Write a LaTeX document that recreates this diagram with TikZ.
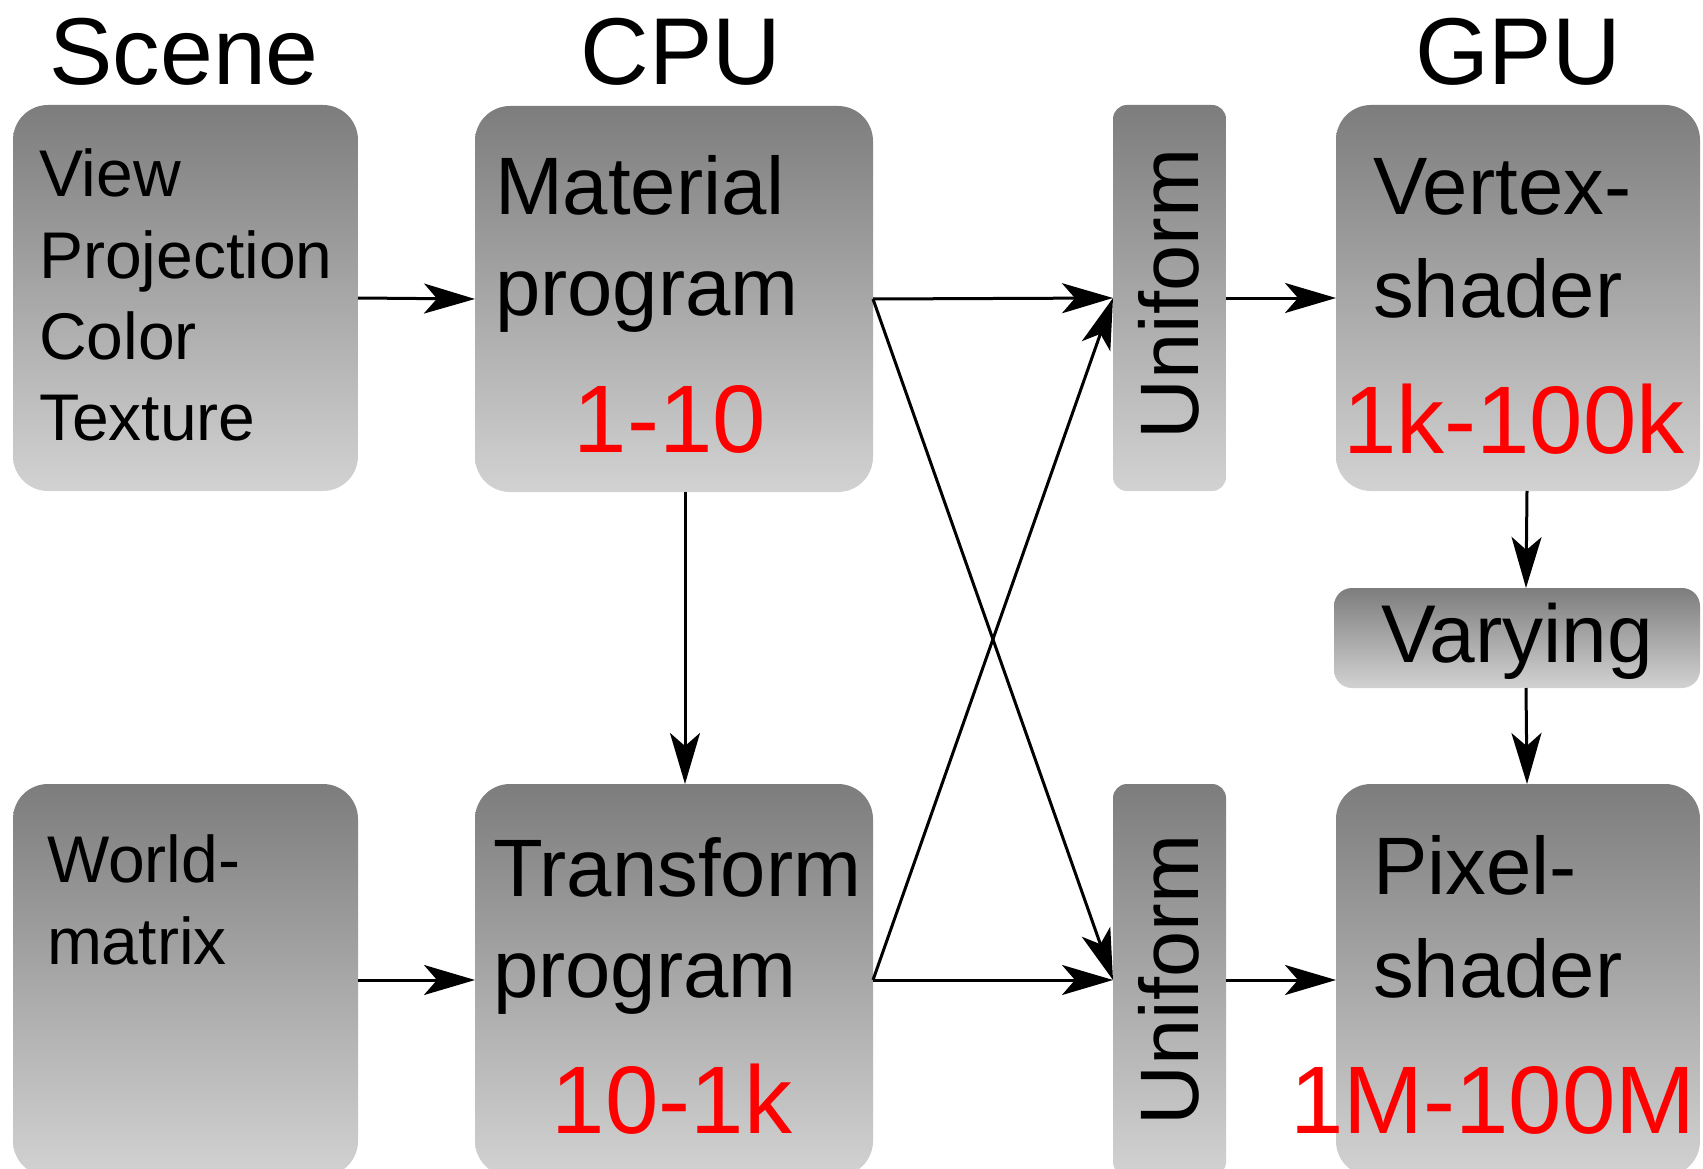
\documentclass[tikz,border=0pt]{standalone}
\usepackage{fontspec}
\setmainfont{Liberation Sans}
\usetikzlibrary{arrows.meta}
\definecolor{boxtop}{RGB}{125,125,125}
\definecolor{boxbot}{RGB}{210,210,210}
\definecolor{numred}{RGB}{255,0,0}
\newcommand\myfs[1]{\fontsize{#1}{#1}\selectfont}
\tikzset{
  box/.style={rectangle, rounded corners=35pt, top color=boxtop, bottom color=boxbot,
    draw=none, inner sep=0pt, outer sep=0pt},
  slimbox/.style={box, rounded corners=14pt},
  arr/.style={-{Stealth[length=51pt,width=30pt,inset=13pt]}, line width=3pt},
  lefttxt/.style={anchor=base west, inner sep=0pt, outer sep=0pt},
  ctxt/.style={anchor=base, inner sep=0pt, outer sep=0pt},
  head/.style={ctxt, font=\myfs{95}},
  small/.style={lefttxt, font=\myfs{66}},
  mid/.style={lefttxt, font=\myfs{81.5}},
  num/.style={ctxt, text=numred, font=\myfs{96}},
  vert/.style={anchor=base, rotate=90, inner sep=0pt, outer sep=0pt, font=\myfs{83}}
}
\begin{document}
\begin{tikzpicture}[x=1pt,y=-1pt]
\clip (0,0) rectangle (1703,1169);
\fill[white] (0,0) rectangle (1703,1169);
% boxes
\node[box, minimum width=345pt, minimum height=386pt] (scene) at (185.5,298) {};
\node[box, minimum width=398pt, minimum height=386pt] (material) at (674,299) {};
\node[slimbox, minimum width=113pt, minimum height=386pt] (unifT) at (1169.5,298) {};
\node[box, minimum width=364pt, minimum height=386pt] (vertex) at (1518,298) {};
\node[box, rounded corners=18pt, minimum width=366pt, minimum height=100pt] (varying) at (1517,638) {};
\node[box, minimum width=345pt, minimum height=392pt] (world) at (185.5,980) {};
\node[box, minimum width=398pt, minimum height=392pt] (transform) at (674,980) {};
\node[slimbox, minimum width=113pt, minimum height=392pt] (unifB) at (1169.5,980) {};
\node[box, minimum width=364pt, minimum height=392pt] (pixel) at (1518,980) {};
% connectors
\draw[arr] (scene.east) -- (material.west);
\draw[arr] (world.east) -- (transform.west);
\draw[arr] ([xshift=11pt]material.south) -- ([xshift=11pt]transform.north);
\draw[arr] (material.east) -- (unifT.west);
\draw[arr] (material.east) -- (unifB.west);
\draw[arr] (transform.east) -- (unifT.west);
\draw[arr] (transform.east) -- (unifB.west);
\draw[arr] (unifT.east) -- (vertex.west);
\draw[arr] (unifB.east) -- (pixel.west);
\draw[arr] ([xshift=9pt]vertex.south) -- ([xshift=9pt]varying.north);
\draw[arr] ([xshift=9pt]varying.south) -- ([xshift=9pt]pixel.north);
% headers
\node[head] (hScene) at (184,85) {Scene};
\node[head] (hCPU) at (681,85) {CPU};
\node[head] (hGPU) at (1518,85) {GPU};
% scene text
\node[small] (sc1) at (39,197) {View};
\node[small] (sc2) at (39,278) {Projection};
\node[small] (sc3) at (39,359) {Color};
\node[small] (sc4) at (39,440) {Texture};
% material text
\node[mid] (ma1) at (495,215) {Material};
\node[mid] (ma2) at (495,315) {program};
\node[num] (maN) at (670,452) {1-10};
% uniforms
\node[vert] (uT) at (1198,294) {Uniform};
\node[vert] (uB) at (1198,980) {Uniform};
% vertex
\node[mid] (ve1) at (1373,215) {Vertex-};
\node[mid] (ve2) at (1373,317) {shader};
\node[num] (veN) at (1514,453) {1k-100k};
% varying
\node[ctxt, font=\myfs{82}] (va) at (1517,662) {Varying};
% world
\node[small] (wo1) at (47,882) {World-};
\node[small] (wo2) at (47,964) {matrix};
% transform
\node[mid] (tr1) at (493,896) {Transform};
\node[mid] (tr2) at (493,997) {program};
\node[num] (trN) at (672,1133) {10-1k};
% pixel
\node[mid] (pi1) at (1373,894) {Pixel-};
\node[mid] (pi2) at (1373,997) {shader};
\node[num] (piN) at (1493,1133) {1M-100M};
\end{tikzpicture}
\end{document}
